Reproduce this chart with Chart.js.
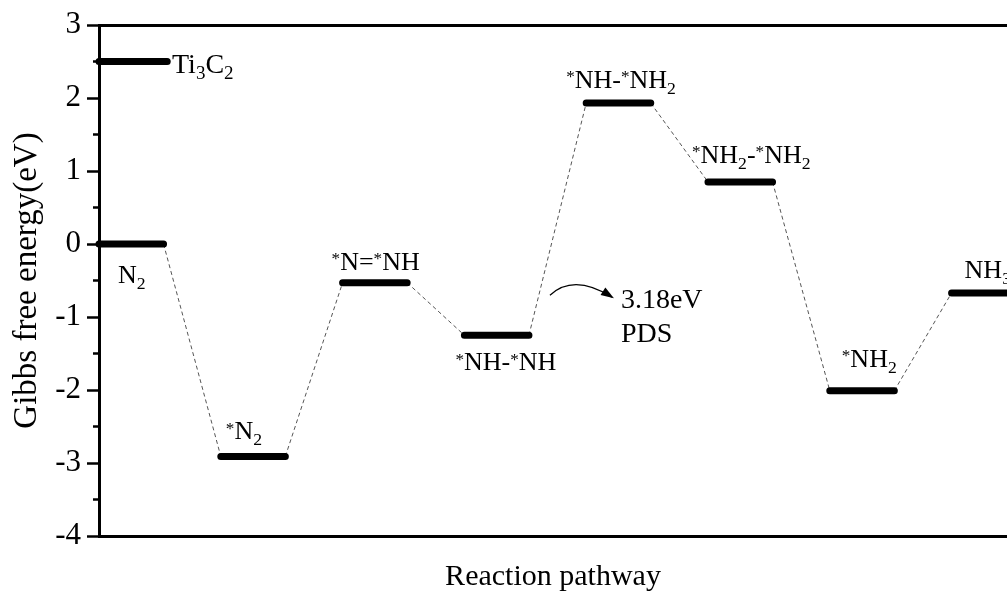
<!DOCTYPE html>
<html>
<head>
<meta charset="utf-8">
<script src="https://cdn.jsdelivr.net/npm/chart.js@4/dist/chart.umd.min.js"></script>
<style>
  html, body { margin: 0; padding: 0; background: #fff; overflow: hidden; }
  #wrap { width: 1007px; height: 593px; position: relative; }
</style>
</head>
<body>
<div id="wrap"><canvas id="c" width="1007" height="593"></canvas></div>
<script>
// Reaction intermediates along the N2 -> NH3 pathway and their free energies (eV)
const stepNames = ['N2', '*N2', '*N=*NH', '*NH-*NH', '*NH-*NH2', '*NH2-*NH2', '*NH2', 'NH3'];
// rich-text labels: ^{..} superscript, _{..} subscript
const stepLabels = ['N_{2}', '^{*}N_{2}', '^{*}N=^{*}NH', '^{*}NH-^{*}NH', '^{*}NH-^{*}NH_{2}',
                    '^{*}NH_{2}-^{*}NH_{2}', '^{*}NH_{2}', 'NH_{3}'];
const stepEnergies = [0, -2.91, -0.53, -1.25, 1.93, 0.85, -2.01, -0.67];

// bare substrate reference level
const substrateLabel = 'Ti_{3}C_{2}';
const substrateEnergy = 2.5;

// y axis
const yTickValues = [-4, -3, -2, -1, 0, 1, 2, 3];

// potential-determining step annotation
const pdsFrom = 3;          // index of *NH-*NH
const pdsTo = 4;            // index of *NH-*NH2
const pdsLines = ['3.18eV', 'PDS'];

// ---- drawing parameters ----
const LEVEL_W = 0.53;
const SUB_W = 0.56;
const FONT = '"Liberation Serif", "Times New Roman", serif';
// label placement: dx from level start (px), dy from level (px) to text baseline
const labelPlace = [
  { dx: 19, dy: 39 }, { dx: 5, dy: -17 }, { dx: -11, dy: -13 }, { dx: -9, dy: 35 },
  { dx: -20, dy: -15 }, { dx: -16, dy: -19 }, { dx: 12, dy: -24 }, { dx: 13, dy: -15 }
];
const substratePlace = { dx: 73, dy: 11 };

const levelPts = [];
stepEnergies.forEach((e, i) => {
  levelPts.push({ x: i, y: e }, { x: i + LEVEL_W, y: e }, { x: i + LEVEL_W, y: null });
});
const linkPts = [];
for (let i = 0; i < stepEnergies.length - 1; i++) {
  linkPts.push({ x: i + LEVEL_W, y: stepEnergies[i] }, { x: i + 1, y: stepEnergies[i + 1] }, { x: i + 1, y: null });
}
const substratePts = [{ x: 0, y: substrateEnergy }, { x: SUB_W, y: substrateEnergy }];

function parseRich(str) {
  const runs = [];
  const re = /(\^\{([^}]*)\})|(_\{([^}]*)\})|([^\^_]+)/g;
  let m;
  while ((m = re.exec(str))) {
    if (m[2] !== undefined) runs.push({ t: m[2], k: 'sup' });
    else if (m[4] !== undefined) runs.push({ t: m[4], k: 'sub' });
    else runs.push({ t: m[5], k: 'n' });
  }
  return runs;
}
function drawRich(ctx, str, x, y, size) {
  let cx = x;
  ctx.textAlign = 'left';
  ctx.textBaseline = 'alphabetic';
  for (const r of parseRich(str)) {
    let s = size, dy = 0;
    if (r.k === 'sup') { s = size * 0.66; dy = -size * 0.22; }
    if (r.k === 'sub') { s = size * 0.68; dy = size * 0.23; }
    ctx.font = s + 'px ' + FONT;
    ctx.fillText(r.t, cx, y + dy);
    cx += ctx.measureText(r.t).width;
  }
}

const decorations = {
  id: 'decorations',
  afterDatasetsDraw(chart) {
    const { ctx, scales: { x, y }, chartArea } = chart;
    ctx.save();
    // minor ticks halfway between labelled values
    ctx.strokeStyle = '#000';
    ctx.lineWidth = 2.5;
    for (let i = 0; i < yTickValues.length - 1; i++) {
      const py = y.getPixelForValue((yTickValues[i] + yTickValues[i + 1]) / 2);
      ctx.beginPath();
      ctx.moveTo(chartArea.left - 6, py);
      ctx.lineTo(chartArea.left, py);
      ctx.stroke();
    }
    // level labels
    ctx.fillStyle = '#000';
    stepLabels.forEach((lab, i) => {
      const p = labelPlace[i];
      drawRich(ctx, lab, x.getPixelForValue(i) + p.dx, y.getPixelForValue(stepEnergies[i]) + p.dy, 26);
    });
    drawRich(ctx, substrateLabel, x.getPixelForValue(0) + substratePlace.dx,
             y.getPixelForValue(substrateEnergy) + substratePlace.dy, 28);

    // PDS arrow and text, placed beside the rising step
    const x0 = x.getPixelForValue(pdsFrom + LEVEL_W) + 3;
    const yMid = y.getPixelForValue(stepEnergies[pdsFrom]);
    const sx = x0 + 18, sy = yMid - 40;
    const ex = sx + 62, ey = sy + 2;
    const cxp = sx + 24, cyp = sy - 22;
    ctx.lineWidth = 1.2;
    ctx.beginPath();
    ctx.moveTo(sx, sy);
    ctx.quadraticCurveTo(cxp, cyp, ex, ey);
    ctx.stroke();
    const ang = Math.atan2(ey - cyp, ex - cxp);
    const L = 13, W = 4.5;
    ctx.beginPath();
    ctx.moveTo(ex + 2, ey + 1);
    ctx.lineTo(ex + 2 - L * Math.cos(ang) + W * Math.sin(ang), ey + 1 - L * Math.sin(ang) - W * Math.cos(ang));
    ctx.lineTo(ex + 2 - L * Math.cos(ang) - W * Math.sin(ang), ey + 1 - L * Math.sin(ang) + W * Math.cos(ang));
    ctx.closePath();
    ctx.fill();
    ctx.font = '28px ' + FONT;
    ctx.textAlign = 'left';
    ctx.textBaseline = 'alphabetic';
    ctx.fillText(pdsLines[0], ex + 9, sy + 13);
    ctx.fillText(pdsLines[1], ex + 9, sy + 47);
    ctx.restore();
  }
};

new Chart(document.getElementById('c'), {
  type: 'line',
  data: {
    datasets: [
      { data: levelPts, borderColor: '#000', borderWidth: 7, borderCapStyle: 'round',
        pointRadius: 0, spanGaps: false, clip: false },
      { data: substratePts, borderColor: '#000', borderWidth: 7, borderCapStyle: 'round',
        pointRadius: 0, clip: false },
      { data: linkPts, borderColor: '#555', borderWidth: 1, borderDash: [4, 3],
        pointRadius: 0, spanGaps: false, clip: false }
    ]
  },
  options: {
    responsive: false,
    animation: false,
    devicePixelRatio: 1,
    layout: { padding: { top: 25, left: 0, right: 0, bottom: 0 } },
    plugins: { legend: { display: false }, tooltip: { enabled: false } },
    scales: {
      x: {
        type: 'linear', position: 'bottom', min: 0, max: 7.455,
        ticks: { display: false },
        grid: { drawOnChartArea: false, drawTicks: false },
        border: { display: true, width: 3, color: '#000' },
        title: { display: true, text: 'Reaction pathway', color: '#000',
                 font: { family: FONT, size: 30 }, padding: { top: 0, bottom: -2 } },
        afterFit: s => { s.height = 57; }
      },
      xTop: {
        type: 'linear', position: 'top', min: 0, max: 7.455,
        ticks: { display: false },
        grid: { drawOnChartArea: false, drawTicks: false },
        border: { display: true, width: 3, color: '#000' },
        afterFit: s => { s.height = 0; }
      },
      y: {
        min: yTickValues[0], max: yTickValues[yTickValues.length - 1],
        afterBuildTicks: s => { s.ticks = yTickValues.map(v => ({ value: v })); },
        ticks: { color: '#000', font: { family: FONT, size: 31 }, padding: 6,
                 callback: v => String(v) },
        grid: { drawOnChartArea: false, drawTicks: true, tickLength: 12, tickWidth: 2.5, tickColor: '#000' },
        border: { display: true, width: 3, color: '#000' },
        title: { display: true, text: 'Gibbs free energy(eV)', color: '#000',
                 font: { family: FONT, size: 33 }, padding: { top: 8, bottom: 0 } },
        afterFit: s => { s.width = 99; }
      }
    }
  },
  plugins: [decorations]
});
</script>
</body>
</html>
